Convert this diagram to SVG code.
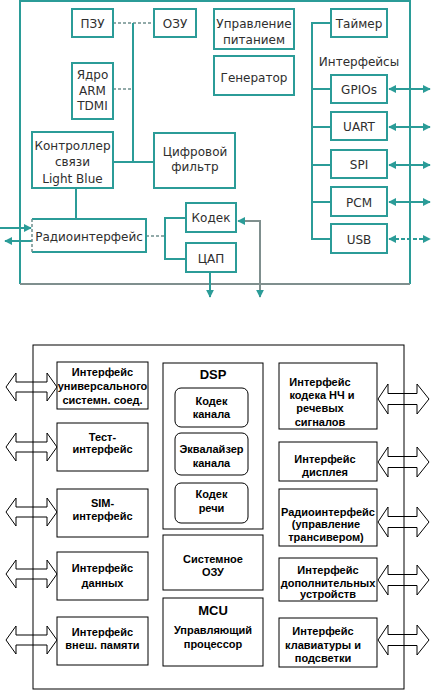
<svg xmlns="http://www.w3.org/2000/svg" width="434" height="698" viewBox="0 0 434 698">
<style>
.tb{fill:#fff;stroke:#2b9c98;stroke-width:2}
.tl{fill:none;stroke:#2b9c98;stroke-width:2}
.td{fill:none;stroke:#6f8f8d;stroke-width:1.5;stroke-dasharray:3 2}
.tt{font-family:"DejaVu Sans",sans-serif;font-size:12px;fill:#2e2e2e;text-anchor:middle}
.bb{fill:#fff;stroke:#000;stroke-width:1}
.bl{fill:none;stroke:#000;stroke-width:1}
.bt{font-family:"Liberation Sans",Arial,sans-serif;font-size:11px;font-weight:bold;fill:#000;text-anchor:middle}
.bh{font-family:"Liberation Sans",Arial,sans-serif;font-size:13px;font-weight:bold;fill:#000;text-anchor:middle}
.arr{fill:#fff;stroke:#000;stroke-width:1}
</style>
<defs>
<marker id="ah" viewBox="0 0 10 10" refX="9" refY="5" markerWidth="4" markerHeight="4" orient="auto-start-reverse">
<path d="M0,0 L10,5 L0,10 Z" fill="#2b9c98"/>
</marker>
<path id="dl" d="M6,0 L16,-14 L16,-5 L47,-5 L47,-14 L57,0 L47,14 L47,5 L16,5 L16,14 Z"/>
<path id="dr" d="M378,0 L388,-15 L388,-5.5 L417,-5.5 L417,-15 L429,0 L417,15 L417,5.5 L388,5.5 L388,15 Z"/>
</defs>
<rect width="434" height="698" fill="#fff"/>

<!-- TOP DIAGRAM -->
<g id="top-frame">
<path class="tl" d="M20,284 L20,1 L410,1 L410,284"/>
<line x1="20" y1="284" x2="410" y2="284" stroke="#7f8f8e" stroke-width="2"/>
</g>
<g id="top-connectors">
<line class="td" x1="113" y1="23" x2="154" y2="23"/>
<line class="tl" x1="133" y1="23" x2="133" y2="162"/>
<line class="td" x1="113" y1="89" x2="133" y2="89"/>
<line class="tl" x1="113" y1="162" x2="154" y2="162"/>
<line class="tl" x1="76" y1="188" x2="76" y2="219"/>
<line class="tl" x1="0" y1="228" x2="31" y2="228" marker-end="url(#ah)"/>
<line class="tl" x1="32" y1="241" x2="5" y2="241" marker-end="url(#ah)"/>
<line class="td" x1="146" y1="236" x2="165" y2="236"/>
<path class="tl" d="M186,218 L165,218 L165,259 L186,259"/>
<path fill="none" stroke="#7f8f8e" stroke-width="2" d="M238,221 L260,221 L260,297" marker-start="url(#ah)" marker-end="url(#ah)"/>
<line class="tl" x1="210" y1="272" x2="210" y2="297" marker-end="url(#ah)"/>
<path class="tl" d="M331,23 L312,23 L312,239 L331,239"/>
<line class="tl" x1="312" y1="89" x2="331" y2="89"/>
<line class="tl" x1="312" y1="127" x2="331" y2="127"/>
<line class="tl" x1="312" y1="165" x2="331" y2="165"/>
<line class="tl" x1="312" y1="202" x2="331" y2="202"/>
<line class="tl" x1="389" y1="89" x2="430" y2="89" marker-start="url(#ah)" marker-end="url(#ah)"/>
<line class="tl" x1="389" y1="127" x2="430" y2="127" marker-start="url(#ah)" marker-end="url(#ah)"/>
<line class="tl" x1="389" y1="165" x2="430" y2="165" marker-start="url(#ah)" marker-end="url(#ah)"/>
<line class="tl" x1="389" y1="202" x2="430" y2="202" marker-start="url(#ah)" marker-end="url(#ah)"/>
<line class="tl" x1="389" y1="239" x2="430" y2="239" stroke-dasharray="4 2" marker-start="url(#ah)" marker-end="url(#ah)"/>
</g>
<g id="pzu"><rect class="tb" x="72" y="9" width="41" height="28"/><text class="tt" x="92.5" y="27.5">ПЗУ</text></g>
<g id="ozu"><rect class="tb" x="154" y="9" width="42" height="28"/><text class="tt" x="175" y="27.5">ОЗУ</text></g>
<g id="arm"><rect class="tb" x="72" y="63" width="41" height="56"/>
<text class="tt" x="92.5" y="79">Ядро</text><text class="tt" x="92.5" y="94.5">ARM</text><text class="tt" x="92.5" y="110">TDMI</text></g>
<g id="ctrl"><rect class="tb" x="32" y="132" width="81" height="56"/>
<text class="tt" x="72.5" y="150">Контроллер</text><text class="tt" x="72.5" y="166">связи</text><text class="tt" x="72.5" y="182.5">Light Blue</text></g>
<g id="filter"><rect class="tb" x="154" y="133" width="81" height="55"/>
<text class="tt" x="195" y="155.5">Цифровой</text><text class="tt" x="195" y="171">фильтр</text></g>
<g id="power"><rect class="tb" x="214" y="9" width="80" height="40" stroke="#5f9692"/>
<text class="tt" x="254" y="28">Управление</text><text class="tt" x="254" y="44" font-size="11">питанием</text></g>
<g id="gen"><rect class="tb" x="214" y="56" width="80" height="39" stroke="#5f9692"/><text class="tt" x="254" y="82">Генератор</text></g>
<g id="timer"><rect class="tb" x="331" y="9" width="56" height="28"/><text class="tt" x="359" y="28">Таймер</text></g>
<text class="tt" x="359" y="66">Интерфейсы</text>
<g id="gpio"><rect class="tb" x="331" y="75" width="56" height="28"/><text class="tt" x="359" y="93.5">GPIOs</text></g>
<g id="uart"><rect class="tb" x="331" y="112" width="56" height="28"/><text class="tt" x="359" y="131">UART</text></g>
<g id="spi"><rect class="tb" x="331" y="150" width="56" height="28"/><text class="tt" x="359" y="169">SPI</text></g>
<g id="pcm"><rect class="tb" x="331" y="187" width="56" height="29"/><text class="tt" x="359" y="206.5">PCM</text></g>
<g id="usb"><rect class="tb" x="331" y="224" width="56" height="29"/><text class="tt" x="359" y="243.5">USB</text></g>
<g id="radio"><rect x="32" y="219" width="114" height="33" fill="#fff"/>
<path class="tl" d="M32,219 L146,219 L146,252 L32,252"/>
<line class="td" x1="32" y1="219" x2="32" y2="252" stroke="#2b9c98"/>
<text class="tt" x="89" y="240.5">Радиоинтерфейс</text></g>
<g id="codec"><rect class="tb" x="186" y="203" width="50" height="29"/><text class="tt" x="211" y="222">Кодек</text></g>
<g id="dac"><rect class="tb" x="186" y="243" width="50" height="29"/><text class="tt" x="211" y="262.5">ЦАП</text></g>

<!-- BOTTOM DIAGRAM -->
<g id="bottom-connectors">
<use href="#dl" class="arr" y="387"/>
<use href="#dl" class="arr" y="447"/>
<use href="#dl" class="arr" y="512"/>
<use href="#dl" class="arr" y="574"/>
<use href="#dl" class="arr" y="640"/>
<use href="#dr" class="arr" y="399"/>
<use href="#dr" class="arr" y="462"/>
<use href="#dr" class="arr" y="522"/>
<use href="#dr" class="arr" y="580"/>
<use href="#dr" class="arr" y="640"/>
<rect class="bl" x="33" y="345" width="371" height="344"/>
</g>
<g id="b-usc"><rect class="bb" x="57" y="362" width="91" height="47"/>
<text class="bt" x="102.5" y="376">Интерфейс</text><text class="bt" x="102.5" y="390">универсального</text><text class="bt" x="102.5" y="404">системн. соед.</text></g>
<g id="b-test"><rect class="bb" x="57" y="423" width="91" height="48"/>
<text class="bt" x="102.5" y="441">Тест-</text><text class="bt" x="102.5" y="453">интерфейс</text></g>
<g id="b-sim"><rect class="bb" x="57" y="489" width="91" height="48"/>
<text class="bt" x="102.5" y="507">SIM-</text><text class="bt" x="102.5" y="520">интерфейс</text></g>
<g id="b-data"><rect class="bb" x="57" y="552" width="91" height="48"/>
<text class="bt" x="102.5" y="572">Интерфейс</text><text class="bt" x="102.5" y="587">данных</text></g>
<g id="b-mem"><rect class="bb" x="57" y="617" width="91" height="48"/>
<text class="bt" x="102.5" y="636">Интерфейс</text><text class="bt" x="102.5" y="649">внеш. памяти</text></g>
<g id="b-dsp"><rect class="bb" x="163" y="363" width="100" height="166"/>
<text class="bh" x="213" y="379">DSP</text>
<rect class="bb" x="175" y="388" width="73" height="39" rx="6"/>
<text class="bt" x="211.5" y="405">Кодек</text><text class="bt" x="211.5" y="418">канала</text>
<rect class="bb" x="175" y="433" width="73" height="42" rx="6"/>
<text class="bt" x="211.5" y="453">Эквалайзер</text><text class="bt" x="211.5" y="467">канала</text>
<rect class="bb" x="175" y="483" width="73" height="40" rx="6"/>
<text class="bt" x="211.5" y="498">Кодек</text><text class="bt" x="211.5" y="512">речи</text></g>
<g id="b-ram"><rect class="bb" x="163" y="535" width="100" height="55"/>
<text class="bt" x="213" y="563">Системное</text><text class="bt" x="213" y="576">ОЗУ</text></g>
<g id="b-mcu"><rect class="bb" x="163" y="598" width="100" height="68"/>
<text class="bh" x="213" y="615">MCU</text>
<text class="bt" x="213" y="634">Управляющий</text><text class="bt" x="213" y="648">процессор</text></g>
<g id="b-codec"><rect class="bb" x="279" y="363" width="98" height="66"/>
<text class="bt" x="320" y="386">Интерфейс</text><text class="bt" x="322" y="399">кодека НЧ и</text><text class="bt" x="320" y="412">речевых</text><text class="bt" x="320" y="426">сигналов</text></g>
<g id="b-disp"><rect class="bb" x="279" y="442" width="98" height="39"/>
<text class="bt" x="325" y="463">Интерфейс</text><text class="bt" x="325" y="476">дисплея</text></g>
<g id="b-radio"><rect class="bb" x="279" y="489" width="98" height="57"/>
<text class="bt" x="328" y="516">Радиоинтерфейс</text><text class="bt" x="326" y="528">(управление</text><text class="bt" x="326" y="541">трансивером)</text></g>
<g id="b-ext"><rect class="bb" x="279" y="558" width="98" height="43"/>
<text class="bt" x="328" y="574">Интерфейс</text><text class="bt" x="328" y="587">дополнительных</text><text class="bt" x="328" y="598">устройств</text></g>
<g id="b-kbd"><rect class="bb" x="279" y="618" width="98" height="49"/>
<text class="bt" x="323" y="635">Интерфейс</text><text class="bt" x="323" y="649">клавиатуры и</text><text class="bt" x="323" y="662">подсветки</text></g>
</svg>
